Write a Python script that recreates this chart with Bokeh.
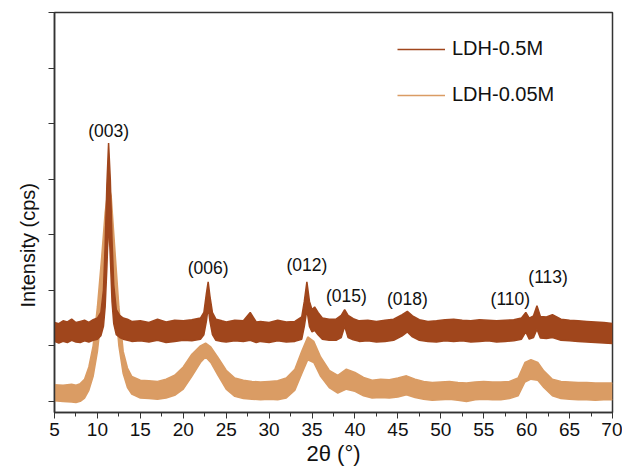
from bokeh.plotting import figure
from bokeh.models import Range1d, FixedTicker, Legend, LegendItem, ColumnDataSource, Title
from bokeh.embed import file_html
from bokeh.resources import INLINE

# ---------------- data ----------------
# LDH-0.5M : 2theta, lower and upper edge of the noisy trace (a.u.)
dark_x = [5.0, 5.5, 6.0, 6.5, 7.0, 7.5, 8.0, 8.5, 9.0, 9.5, 10.0, 10.4, 10.7, 10.9, 11.1, 11.3,
          11.5, 11.7, 11.9, 12.2, 12.6, 13.0, 13.5, 14.0, 15.0, 16.0, 17.0, 18.0, 19.0, 20.0,
          21.0, 22.0, 22.4, 22.7, 22.9, 23.1, 23.4, 23.8, 24.5, 25.0, 26.0, 27.0, 27.8, 28.5,
          29.0, 30.0, 31.0, 32.0, 33.0, 33.8, 34.1, 34.4, 34.7, 35.0, 35.3, 35.7, 36.2, 37.0,
          37.8, 38.4, 38.8, 39.2, 39.8, 40.5, 41.5, 42.5, 43.5, 44.5, 45.5, 46.1, 46.7, 47.5,
          48.5, 49.5, 50.5, 51.5, 52.5, 53.5, 54.5, 55.5, 56.5, 57.5, 58.5, 59.4, 59.9, 60.3,
          60.8, 61.2, 61.6, 62.3, 63.0, 64.0, 65.0, 66.0, 67.0, 68.0, 69.0, 70.0]
dark_lo = [1080, 1050, 1080, 1060, 1100, 1070, 1060, 1090, 1070, 1100, 1120, 1180, 1350, 1700, 2400, 3300,
           2600, 1800, 1400, 1200, 1150, 1120, 1100, 1080, 1090, 1070, 1100, 1060, 1080, 1100,
           1090, 1120, 1200, 1450, 1700, 1450, 1200, 1100, 1080, 1070, 1090, 1080, 1100, 1060,
           1080, 1060, 1090, 1070, 1080, 1120, 1350, 1650, 1350, 1250, 1280, 1200, 1120, 1100,
           1100, 1150, 1350, 1150, 1110, 1080, 1090, 1070, 1080, 1100, 1180, 1250, 1160, 1100,
           1080, 1070, 1090, 1080, 1090, 1070, 1080, 1090, 1070, 1080, 1090, 1120, 1250, 1120,
           1150, 1300, 1140, 1130, 1150, 1100, 1090, 1080, 1070, 1060, 1050, 1040]
dark_hi = [1420, 1400, 1450, 1430, 1480, 1420, 1440, 1460, 1420, 1470, 1500, 1600, 2000, 2800, 3900, 4650,
           4000, 2900, 2100, 1650, 1550, 1500, 1480, 1440, 1450, 1420, 1480, 1430, 1460, 1450,
           1470, 1500, 1600, 1950, 2150, 1900, 1600, 1480, 1450, 1430, 1460, 1450, 1600, 1430,
           1440, 1420, 1460, 1430, 1440, 1520, 1800, 2150, 1800, 1650, 1700, 1600, 1500, 1480,
           1480, 1550, 1650, 1550, 1490, 1450, 1460, 1440, 1460, 1480, 1560, 1620, 1540, 1470,
           1440, 1450, 1470, 1480, 1460, 1450, 1470, 1460, 1450, 1460, 1470, 1500, 1600, 1500,
           1540, 1720, 1530, 1520, 1560, 1480, 1460, 1450, 1440, 1430, 1420, 1400]

# LDH-0.05M
light_x = [5.0, 6.0, 7.0, 7.5, 8.0, 8.5, 9.0, 9.5, 10.0, 10.5, 10.9, 11.3, 11.6, 12.0, 12.5, 13.0,
           13.5, 14.0, 15.0, 16.0, 17.0, 18.0, 19.0, 20.0, 21.0, 22.0, 22.6, 23.2, 24.0, 25.0,
           26.0, 27.0, 28.0, 29.0, 30.0, 31.0, 32.0, 33.0, 33.8, 34.5, 35.2, 36.0, 37.0, 38.0,
           39.0, 40.0, 41.0, 42.0, 43.0, 44.0, 45.0, 46.0, 47.0, 48.0, 49.0, 50.0, 51.0, 52.0,
           53.0, 54.0, 55.0, 56.0, 57.0, 58.0, 59.0, 59.8, 60.5, 61.3, 62.0, 63.0, 64.0, 65.0,
           66.0, 67.0, 68.0, 69.0, 70.0]
light_lo = [10, 0, -10, -20, 0, 60, 200, 450, 900, 1600, 2400, 3000, 2800, 1900, 1000, 500,
            250, 130, 60, 50, 40, 60, 110, 220, 450, 700, 800, 700, 480, 220,
            90, 50, 40, 30, 40, 30, 60, 200, 500, 750, 700, 450, 250, 150,
            220, 180, 100, 60, 70, 60, 80, 120, 70, 40, 20, 30, 40, 20,
            0, 30, 40, 30, 30, 50, 100, 350, 400, 380, 250, 100, 50, 40,
            30, 30, 20, 30, 30]
light_hi = [300, 290, 310, 290, 320, 400, 620, 1000, 1700, 2600, 3400, 3900, 3700, 2800, 1700, 900,
            600, 450, 380, 370, 360, 400, 470, 620, 850, 1000, 1050, 980, 800, 560,
            420, 380, 360, 350, 360, 370, 420, 580, 900, 1160, 1080, 800, 560, 470,
            580, 520, 430, 380, 400, 390, 420, 460, 400, 360, 340, 350, 360, 340,
            330, 350, 360, 350, 350, 360, 420, 700, 750, 700, 550, 400, 360, 350,
            340, 340, 330, 330, 330]

peak_labels = ["(003)", "(006)", "(012)", "(015)", "(018)", "(110)", "(113)"]
peak_label_x = [11.3, 22.9, 34.4, 39.0, 46.1, 58.1, 62.5]
peak_label_y = [4870, 2410, 2460, 1890, 1850, 1850, 2240]

series_names = ["LDH-0.5M", "LDH-0.05M"]
x_ticks = list(range(5, 71, 5))
y_ticks = list(range(0, 7001, 1000))
y_title = "Intensity (cps)"
x_title = "2θ (°)"

DARK = "#A0461C"
LIGHT = "#DA9C64"
FONT = "Liberation Sans"

# ---------------- figure ----------------
p = figure(width=622, height=471, output_backend="svg", toolbar_location=None,
           x_range=Range1d(5, 70), y_range=Range1d(-200, 7000),
           min_border_left=54, min_border_right=10, min_border_top=12, min_border_bottom=59)
p.xgrid.visible = False
p.ygrid.visible = False
p.outline_line_color = "#333333"
p.outline_line_width = 1.5
p.background_fill_color = "white"
p.border_fill_color = "white"

p.varea(x=light_x, y1=light_lo, y2=light_hi, fill_color=LIGHT, fill_alpha=1.0)
r_light = p.line(x=light_x, y=light_hi, line_color=LIGHT, line_width=1.5)
p.line(x=light_x, y=light_lo, line_color=LIGHT, line_width=1.5)
p.varea(x=dark_x, y1=dark_lo, y2=dark_hi, fill_color=DARK, fill_alpha=1.0)
r_dark = p.line(x=dark_x, y=dark_hi, line_color=DARK, line_width=1.5)
p.line(x=dark_x, y=dark_lo, line_color=DARK, line_width=1.5)

src = ColumnDataSource(dict(x=peak_label_x, y=peak_label_y, t=peak_labels))
p.text(x="x", y="y", text="t", source=src, text_align="center", text_baseline="middle",
       text_font_size="17.5px", text_color="#111111", text_font={"value": FONT})

legend = Legend(items=[LegendItem(label=series_names[0], renderers=[r_dark]),
                       LegendItem(label=series_names[1], renderers=[r_light])],
                location=(343, 306), glyph_width=48, glyph_height=20, label_height=20,
                spacing=23, padding=0, margin=0, label_standoff=7,
                label_text_font=FONT, label_text_font_size="20px", label_text_color="#111111",
                border_line_color=None, background_fill_alpha=0)
p.add_layout(legend, "center")

# y title (sits lower than the frame centre in the reference)
ytitle = Title(text=y_title, align="left", offset=105, standoff=20,
               text_font=FONT, text_font_size="20px", text_font_style="normal",
               text_color="#111111")
p.add_layout(ytitle, "left")

# axes
xa = p.xaxis[0]
xa.ticker = FixedTicker(ticks=x_ticks, minor_ticks=[v + 2.5 for v in x_ticks[:-1]])
xa.axis_label = x_title
xa.axis_label_text_font = FONT
xa.axis_label_text_font_size = "22px"
xa.axis_label_text_font_style = "normal"
xa.axis_label_standoff = 2
xa.major_label_text_font = FONT
xa.major_label_text_font_size = "19px"
xa.major_label_standoff = 4
xa.major_tick_out = 6
xa.major_tick_in = 0
xa.minor_tick_out = 4
xa.minor_tick_in = 0

ya = p.yaxis[0]
ya.ticker = FixedTicker(ticks=y_ticks, minor_ticks=[])
ya.major_label_text_alpha = 0
ya.major_label_text_font_size = "1px"
ya.major_label_standoff = 0
ya.major_tick_out = 6
ya.major_tick_in = 0

for ax in (xa, ya):
    ax.axis_line_color = "#333333"
    ax.axis_line_width = 1.5
    ax.major_tick_line_color = "#333333"
    ax.minor_tick_line_color = "#333333"
    ax.major_label_text_color = "#111111"
    ax.axis_label_text_color = "#111111"

open("out.html", "w").write(file_html(p, INLINE))
